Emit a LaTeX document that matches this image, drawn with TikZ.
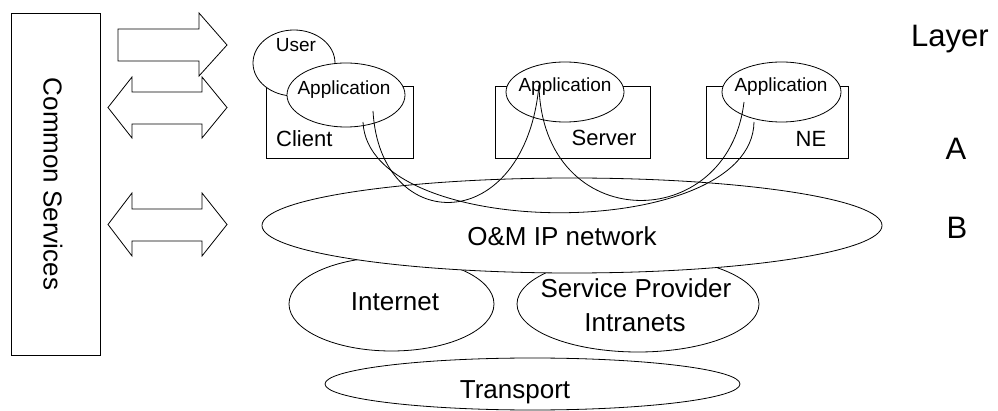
\documentclass[tikz,border=0pt]{standalone}
\usepackage{fontspec}
\setmainfont{Liberation Sans}
\usetikzlibrary{shapes.geometric}
\colorlet{lcol}{black}
\tikzstyle{oval}=[ellipse, draw=lcol, fill=white, inner sep=0pt, line width=0.8pt]
\tikzstyle{box}=[rectangle, draw=lcol, fill=white, inner sep=0pt, line width=0.8pt]
\tikzstyle{fat}=[draw=lcol, fill=white, line width=0.8pt, line join=miter]
\tikzstyle{link}=[line width=0.8pt, lcol]
\tikzstyle{txs}=[inner sep=0pt, anchor=base, font=\fontsize{19}{19}\selectfont]
\tikzstyle{txm}=[inner sep=0pt, anchor=base, font=\fontsize{22}{22}\selectfont]
\tikzstyle{txl}=[inner sep=0pt, anchor=base, font=\fontsize{26}{30}\selectfont]
\tikzstyle{txh}=[inner sep=0pt, anchor=base, font=\fontsize{31}{31}\selectfont]

\begin{document}
\begin{tikzpicture}[x=1pt, y=-1pt]
			\useasboundingbox (0,0) rectangle (998,411);
			% common services and the arrows
			\node[box, rotate=-90, minimum width=342, minimum height=89] (common) at (55.5,184) {};
			\node[txl, anchor=center, rotate=-90] (commontx) at (53,184) {Common Services};
			\draw[fat] (118,29)--(199,29)--(199,13)--(227,45)--(199,76)--(199,61)--(118,61)--cycle;
			\draw[fat] (108,107.5)--(132,77)--(132,92)--(202,92)--(202,77)--(227,107.5)--(202,138)--(202,124)--(132,124)--(132,138)--cycle;
			\draw[fat] (108,224.5)--(132,193)--(132,209)--(202,209)--(202,193)--(227,224.5)--(202,256)--(202,241)--(132,241)--(132,256)--cycle;
			% networks
			\node[oval, minimum width=205, minimum height=94] (inet) at (391.5,304) {};
			\node[oval, minimum width=242, minimum height=96] (spi) at (638,304) {};
			\node[oval, minimum width=620, minimum height=95] (omnet) at (572,225.5) {};
			\node[oval, minimum width=415, minimum height=52] (trans) at (532.5,384) {};
			% hosts
			\node[box, minimum width=147, minimum height=72] (client) at (339.5,122) {};
			\node[box, minimum width=155, minimum height=72] (server) at (572.5,122) {};
			\node[box, minimum width=142, minimum height=72] (ne) at (777,122) {};
			\node[oval, minimum width=82, minimum height=66] (user) at (294,63) {};
			\node[oval, minimum width=118, minimum height=64] (cliapp) at (346,95) {};
			\node[oval, minimum width=118, minimum height=60] (srvapp) at (565,92) {};
			\node[oval, minimum width=119, minimum height=60] (neapp) at (781.5,92) {};
			% labels
			\node[txs] (usertx) at (296,52) {User};
			\node[txs] (cliapptx) at (344,95) {Application};
			\node[txs] (srvapptx) at (565,92) {Application};
			\node[txs] (neapptx) at (781,92) {Application};
			\node[txm, anchor=base west] (clienttx) at (276,147) {Client};
			\node[txm] (servertx) at (604,146) {Server};
			\node[txm] (netx) at (811,147) {NE};
			\node[txl] (omnettx) at (562,246) {O\&M IP network};
			\node[txl] (inettx) at (395,311) {Internet};
			\node[txl] (spitx) at (636,298) {Service Provider};
			\node[txl] (spitxb) at (635,332) {Intranets};
			\node[txl] (transtx) at (515,398) {Transport};
			\node[txh] (layertx) at (950,47) {Layer};
			\node[txh] (atx) at (956,160) {A};
			\node[txh] (btx) at (957,239) {B};
			% sessions
			\coordinate (cliin) at (373,111);
			\coordinate (cliout) at (363,122);
			\coordinate (srvin) at (539,85);
			\coordinate (nein) at (744,102);
			\coordinate (neout) at (754,122);
			\draw[link] (cliin) .. controls (380,237) and (525,237) .. (srvin);
			\draw[link] (srvin) .. controls (542,236) and (728,236) .. (nein);
			\draw[link] (cliout) .. controls (368,243) and (752,243) .. (neout);
		\end{tikzpicture}
\end{document}
